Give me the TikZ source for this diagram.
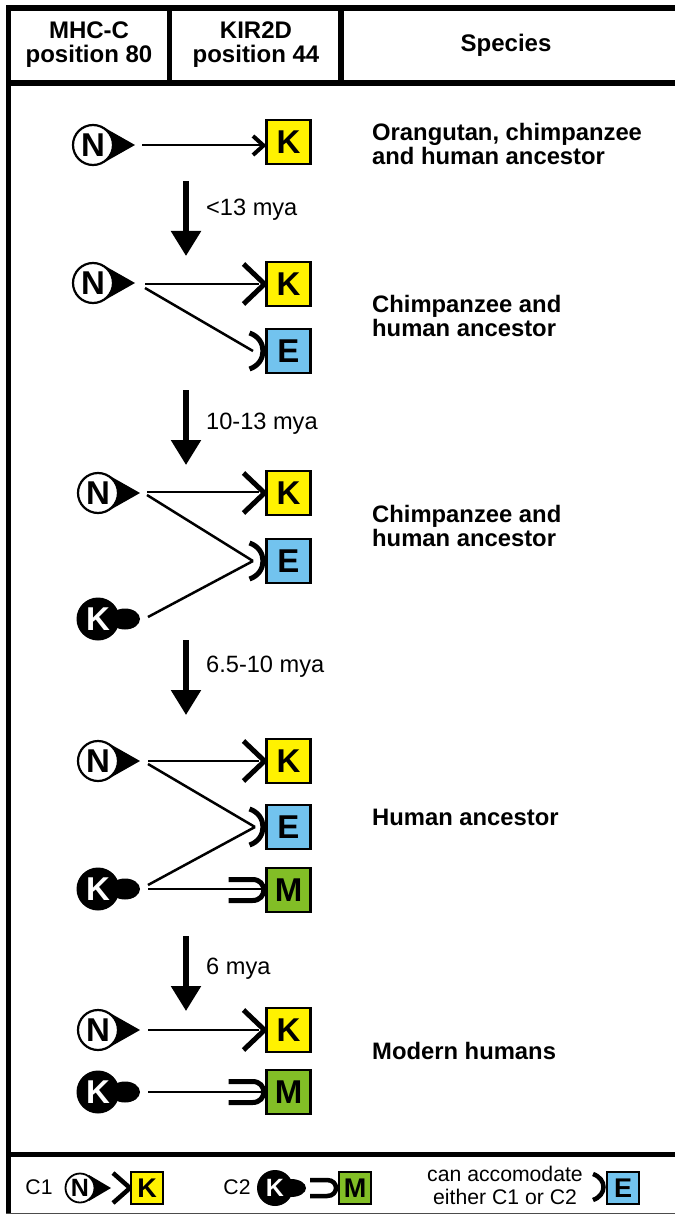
\documentclass[tikz,border=0pt]{standalone}
\usepackage{fontspec}
\setmainfont{Liberation Sans}
\definecolor{kyel}{RGB}{255,242,0}
\definecolor{eblu}{RGB}{114,195,238}
\definecolor{mgrn}{RGB}{130,190,38}
\tikzset{
  bar/.style={line width=5.5pt,line cap=butt},
  link/.style={line width=2.5pt},
  recline/.style={line width=5pt},
  big/.style={line width=5.5pt,-{Triangle[width=29pt,length=25pt]},shorten >=0pt},
  hdr/.style={font=\fontsize{24}{24}\selectfont\bfseries,align=center,inner sep=0pt},
  spc/.style={font=\fontsize{23.8}{24}\selectfont\bfseries,align=left,anchor=west,inner sep=0pt},
  age/.style={font=\fontsize{23.6}{24}\selectfont,anchor=west,inner sep=0pt},
  leg/.style={font=\fontsize{21.2}{23}\selectfont,align=center,inner sep=0pt},
  rec/.style={draw=black,line width=2.5pt,minimum size=44pt,inner sep=0pt,font=\fontsize{33}{33}\selectfont\bfseries},
  recS/.style={draw=black,line width=2pt,minimum size=32pt,inner sep=0pt,font=\fontsize{27}{27}\selectfont\bfseries},
  ligN/.style={circle,draw=black,fill=white,line width=2.2pt,minimum size=#1,inner sep=0pt,font=\fontsize{33}{33}\selectfont\bfseries},
  ligK/.style={circle,fill=black,text=white,minimum size=#1,inner sep=0pt,font=\fontsize{33}{33}\selectfont\bfseries},
}
\usetikzlibrary{arrows.meta}
% name, x, y
\newcommand{\LigN}[3]{%
  \fill (#2+12,#3-17) -- (#2+42,#3) -- (#2+12,#3+17) -- cycle;
  \node[ligN=40pt] (#1) at (#2,#3) {N};
  \coordinate (#1t) at (#2+42,#3);}
\newcommand{\LigK}[3]{%
  \fill (#2+27,#3) ellipse[x radius=15,y radius=10.5];
  \node[ligK=43pt] (#1) at (#2,#3) {K};
  \coordinate (#1t) at (#2+42,#3);}
\newcommand{\RecK}[3]{\draw[recline] (#2-45,#3-20) -- (#2-24,#3) -- (#2-45,#3+20);
  \node[rec,fill=kyel] (#1) at (#2,#3) {K};}
\newcommand{\RecE}[3]{\draw[recline] (#2-39,#3-18) .. controls (#2-21,#3-12) and (#2-21,#3+12) .. (#2-39,#3+18);
  \node[rec,fill=eblu] (#1) at (#2,#3) {E};}
\newcommand{\RecM}[3]{\draw[recline] (#2-60,#3-10.5) -- (#2-36,#3-10.5) .. controls (#2-21,#3-10.5) and (#2-21,#3+10.5) .. (#2-36,#3+10.5) -- (#2-60,#3+10.5);
  \node[rec,fill=mgrn] (#1) at (#2,#3) {M};}
\begin{document}
\begin{tikzpicture}[x=1pt,y=-1pt]
\useasboundingbox (0,0) rectangle (675,1214);
\fill[white] (0,0) rectangle (675,1214);
% frame
\draw[bar] (8.5,1214) -- (8.5,8) -- (675,8);
\draw[bar] (6,83) -- (675,83);
\draw[bar] (169.5,8) -- (169.5,82);
\draw[bar] (341,8) -- (341,82);
\draw[bar] (6,1154.5) -- (675,1154.5);
\draw[line width=1pt,black!70] (6,1213.5) -- (675,1213.5);
% header
\node[hdr] (h1) at (89,45) {MHC-C\\position 80};
\node[hdr] (h2) at (256,45) {KIR2D\\position 44};
\node[hdr] (h3) at (506,45) {Species};
% row 1
\LigN{a}{93}{145}
\node[rec,fill=kyel] (ak) at (288.5,142) {K};
\coordinate (as) at (142,145);
\draw[link] (as) -- (ak.west|-as);
\draw[line width=4pt] (253,136) -- (263.5,145.5) -- (253,155);
\node[spc] (s1) at (372,143.5) {Orangutan, chimpanzee\\and human ancestor};
% arrow 1
\coordinate (t1) at (186,181); \coordinate (b1) at (186,256);
\draw[big] (t1) -- (b1);
\node[age] (y1) at (206,210) {<13 mya};
% row 2
\LigN{b}{93}{283}
\RecK{bk}{288.5}{284}
\RecE{be}{288.5}{351}
\coordinate (bs) at (145,284); \coordinate (bs2) at (145,288);
\coordinate (bk0) at (259,284); \coordinate (be0) at (253,351);
\draw[link] (bs) -- (bk0);
\draw[link] (bs2) -- (be0);
\node[spc] (s2) at (372,315.5) {Chimpanzee and\\human ancestor};
% arrow 2
\coordinate (t2) at (186,390); \coordinate (b2) at (186,465);
\draw[big] (t2) -- (b2);
\node[age] (y2) at (206,423.5) {10-13 mya};
% row 3
\LigN{c}{98}{493}
\LigK{d}{98}{619}
\RecK{ck}{288.5}{493}
\RecE{ce}{288.5}{561}
\coordinate (cs) at (147,492); \coordinate (cs2) at (147,495); \coordinate (ds) at (148,617);
\coordinate (ck0) at (259,492); \coordinate (ce0) at (253,561);
\draw[link] (cs) -- (ck0);
\draw[link] (cs2) -- (ce0);
\draw[link] (ds) -- (ce0);
\node[spc] (s3) at (372,525.5) {Chimpanzee and\\human ancestor};
% arrow 3
\coordinate (t3) at (186,640); \coordinate (b3) at (186,715);
\draw[big] (t3) -- (b3);
\node[age] (y3) at (206,667) {6.5-10 mya};
% row 4
\LigN{e}{98}{761}
\LigK{f}{98}{889}
\RecK{ek}{288.5}{761}
\RecE{ee}{288.5}{827}
\RecM{em}{288.5}{890}
\coordinate (es) at (148,761); \coordinate (es2) at (148,764); \coordinate (fs) at (148,885); \coordinate (fs2) at (148,889);
\coordinate (ek0) at (259,761); \coordinate (ee0) at (255,827); \coordinate (em0) at (262,889);
\draw[link] (es) -- (ek0);
\draw[link] (es2) -- (ee0);
\draw[link] (fs) -- (ee0);
\draw[link] (fs2) -- (em0);
\node[spc] (s4) at (372,817) {Human ancestor};
% arrow 4
\coordinate (t4) at (186,936); \coordinate (b4) at (186,1011);
\draw[big] (t4) -- (b4);
\node[age] (y4) at (206,968.5) {6 mya};
% row 5
\LigN{g}{98}{1030}
\LigK{i}{98}{1092}
\RecK{gk}{288.5}{1030}
\RecM{gm}{288.5}{1092}
\coordinate (gs) at (148,1030); \coordinate (is) at (148,1092);
\coordinate (gk0) at (259,1030); \coordinate (gm0) at (262,1092);
\draw[link] (gs) -- (gk0);
\draw[link] (is) -- (gm0);
\node[spc] (s5) at (372,1051) {Modern humans};
% legend
\node[leg] (l1) at (39,1187) {C1};
\fill (89,1175) -- (111,1188) -- (89,1201) -- cycle;
\node[ligN=29pt,line width=1.8pt,font=\fontsize{25}{25}\selectfont\bfseries] (ln) at (80,1188) {N};
\draw[line width=4.5pt] (113,1173) -- (130,1188) -- (113,1203);
\node[recS,fill=kyel] (lk) at (147,1188) {K};
\node[leg] (l2) at (237,1187) {C2};
\fill (291,1188) ellipse[x radius=15,y radius=9];
\node[ligK=36pt,font=\fontsize{25}{25}\selectfont\bfseries] (lk2) at (275,1188) {K};
\draw[line width=4.5pt] (310,1180) -- (327,1180) .. controls (339,1180) and (339,1196) .. (327,1196) -- (310,1196);
\node[recS,fill=mgrn] (lm) at (355,1188) {M};
\node[leg] (l3) at (505,1185) {can accomodate\\either C1 or C2};
\draw[line width=4.5pt] (593,1174) .. controls (607,1179) and (607,1195) .. (593,1200);
\node[recS,fill=eblu] (le) at (623,1188) {E};
\end{tikzpicture}
\end{document}
